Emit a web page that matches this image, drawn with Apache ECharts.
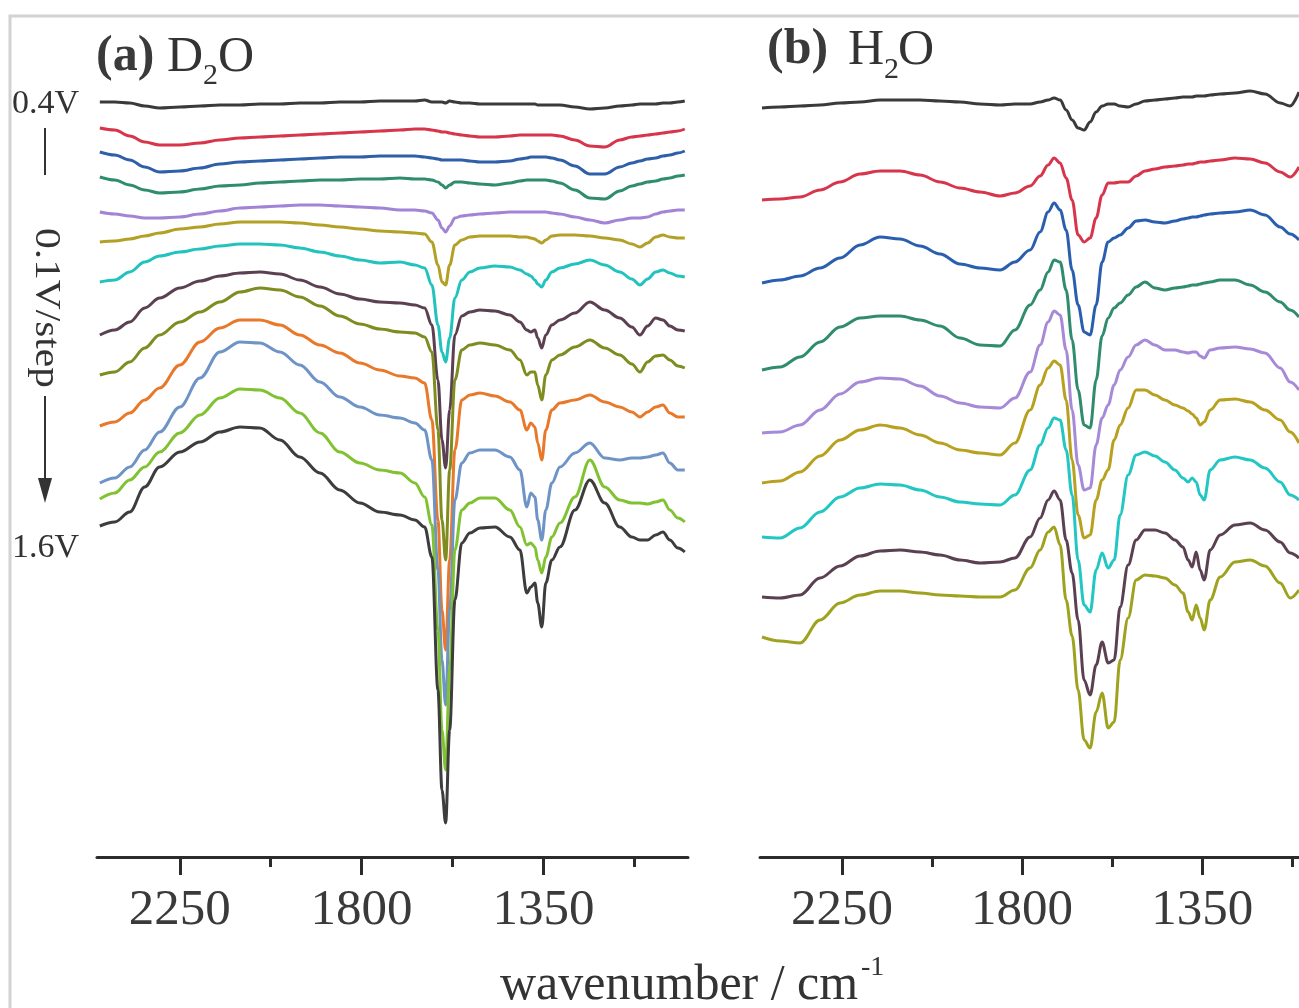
<!DOCTYPE html>
<html>
<head>
<meta charset="utf-8">
<script src="https://cdn.jsdelivr.net/npm/echarts@6/dist/echarts.min.js"></script>
<style>
html,body{margin:0;padding:0;background:#fff;}
#chart{width:1299px;height:1008px;}
</style>
</head>
<body>
<div id="chart"></div>
<script>
// ---------- DATA (wavenumber in cm^-1, intensity in arbitrary units) ----------
const waveA = [2448,2411,2374,2337,2300, 2250,2200,2151,2101,2052, 2002,1953,1903,1854,1804, 1755,1705,1668,1644,1626, 1611,1601,1592,1582,1569, 1552,1532,1507,1470,1433, 1408,1391,1381,1371,1364, 1354,1344,1329,1309,1272, 1235,1198,1161,1131,1111, 1092,1072,1054,1037,1017, 1000];

// Panel (a) D2O, 0.4 V ... 1.6 V
const a04 = [898,898,897,894,892, 893,894,895,895,896, 896,897,897,898,898, 899,899,899,900,898, 898,898,897,899,898, 897,897,896,896,896, 896,896,896,896,895, 895,895,895,895,893, 891,892,894,895,896, 896,896,897,897,898, 899];
const a05 = [872,870,864,858,855, 855,857,860,862,863, 864,865,866,867,868, 869,870,871,871,870, 869,868,868,867,866, 865,864,863,863,864, 865,865,865,865,865, 865,865,865,864,860, 854,853,860,863,864, 865,866,867,868,869, 871];
const a06 = [848,845,840,833,828, 829,832,836,838,839, 840,841,842,843,843, 844,844,844,843,842, 841,840,840,840,840, 840,839,838,838,839, 841,842,843,843,843, 843,843,842,840,834, 826,826,833,837,839, 841,842,844,845,847, 849];
const a07 = [823,820,815,810,807, 808,811,814,815,817, 818,819,820,820,821, 821,822,821,821,820, 818,815,812,815,818, 818,817,816,815,817, 819,820,820,820,820, 820,820,819,817,810, 802,801,809,814,816, 818,819,821,822,824, 825];
const a08 = [788,786,784,782,782, 783,786,789,792,793, 794,795,795,794,793, 792,790,790,789,787, 780,772,768,774,782, 784,785,786,787,788, 788,788,788,788,788, 788,788,787,786,783, 780,777,780,782,782, 783,786,788,789,790, 790];
const a09 = [758,759,761,764,767, 771,773,776,778,778, 778,777,775,773,771, 769,768,767,766,758, 735,718,715,735,755, 760,763,764,764,764, 763,763,762,761,759, 757,760,764,765,765, 764,762,760,756,753, 757,763,765,763,762, 762];
const a10 = [718,720,728,738,744, 748,751,754,756,756, 755,752,748,744,740, 737,738,735,732,715, 675,648,638,662,702, 720,728,732,734,733, 730,726,724,720,716, 713,720,728,732,736, 740,735,728,721,715, 721,728,730,727,724, 723];
const a11 = [665,670,678,692,702, 712,719,724,727,728, 726,720,713,706,701, 698,697,695,692,675, 620,560,532,590,665, 684,688,690,689,685, 678,670,668,670,662, 652,665,675,680,687, 698,690,682,673,665, 674,682,680,674,670, 669];
const a12 = [625,628,638,652,665, 678,688,698,708,712, 710,703,694,684,676, 671,668,667,663,648, 570,480,440,530,620, 650,655,657,655,650, 640,625,628,628,615, 600,625,640,645,653, 660,652,645,636,628, 638,644,645,640,634, 632];
const a13 = [574,578,587,600,612, 635,658,672,680,680, 675,665,655,647,637, 630,624,622,617,580, 480,390,350,440,550, 600,605,607,604,598, 590,570,577,573,557, 540,570,590,597,600, 605,598,593,588,583, 588,593,595,587,583, 583];
const a14 = [517,522,533,550,568, 593,622,648,658,657, 648,635,618,603,593, 585,582,577,570,540, 430,340,295,390,500, 537,547,550,550,543, 530,493,507,503,480, 460,490,517,533,547, 557,542,540,542,542, 543,545,547,537,530, 530];
const a15 = [501,507,520,533,548, 567,585,602,611,610, 602,587,567,548,537, 530,527,517,503,475, 370,270,230,330,450, 490,497,502,502,490, 473,455,457,453,440, 427,443,463,477,503, 540,513,500,497,497, 496,498,500,490,482, 478];
const a16 = [474,478,488,513,533, 548,558,568,573,572, 560,543,527,510,497, 488,485,480,473,443, 310,210,177,270,400, 457,467,472,473,463, 450,407,413,417,397, 373,417,440,453,490, 520,497,473,463,460, 460,465,468,460,452, 448];

const waveB = [2450,2405,2355,2305,2255, 2205,2155,2105,2055,2005, 1955,1905,1855,1818,1780, 1755,1735,1720,1705,1690, 1675,1660,1645,1630,1615, 1600,1585,1570,1555,1535, 1515,1493,1468,1443,1418, 1398,1385,1375,1365,1355, 1345,1330,1305,1268,1230, 1193,1155,1130,1108];

// Panel (b) H2O
const b1 = [892,893,894,895,897, 898,900,900,900,899, 898,896,895,896,896, 898,900,902,900,890, 880,872,870,878,888, 894,896,896,894,893, 896,899,900,901,902, 903,903,903,904,904, 904,905,906,907,909, 906,897,894,908];
const b2 = [800,801,803,810,818, 826,829,829,825,818, 812,808,804,807,814, 824,835,842,837,822, 800,765,758,762,782, 805,817,817,818,818, 824,829,831,833,834, 835,836,836,837,838, 838,839,840,842,841, 837,828,823,833];
const b3 = [717,720,724,732,742, 755,763,761,754,746, 736,732,730,738,750, 768,788,797,790,770, 730,695,668,665,695, 738,758,762,765,772, 779,780,778,777,779, 781,782,783,783,784, 785,786,787,788,790, 785,773,766,760];
const b4 = [630,633,643,658,673, 682,684,684,680,674, 662,655,654,670,695, 710,728,740,738,710, 660,610,575,572,620, 664,682,692,697,705, 713,718,712,710,712, 713,714,715,715,716, 717,718,720,720,715, 708,698,690,683];
const b5 = [567,568,575,590,606, 618,622,621,614,604, 597,593,592,602,628, 655,678,689,685,650, 590,535,510,512,555, 582,595,615,630,643, 655,660,655,650,650, 648,647,648,648,644, 642,650,652,653,651, 647,632,618,610];
const b6 = [517,519,528,544,560, 570,575,572,565,557, 550,547,545,557,590, 615,632,639,635,600, 540,485,462,465,500, 520,530,560,575,592, 610,610,605,600,595, 592,589,586,582,575, 578,590,600,601,598, 590,580,568,557];
const b7 = [463,462,472,488,503, 512,516,515,510,503, 498,496,495,505,530, 555,572,582,580,550, 505,440,395,388,430, 447,432,440,485,525, 545,548,544,538,530, 522,518,522,518,505, 500,530,540,543,540, 532,518,505,500];
const b8 = [403,402,405,422,434, 444,449,450,448,445, 440,437,438,442,463, 482,500,509,500,460, 427,380,320,305,335, 358,337,340,393,435, 460,470,470,467,460, 453,440,433,448,430, 420,450,465,475,477, 470,458,447,442];
const b9 = [363,359,357,380,397, 405,409,409,407,405, 404,403,403,410,432, 450,468,473,455,400, 364,310,260,252,288, 307,272,278,340,382, 420,425,424,422,415, 407,388,380,395,382, 370,400,423,438,440, 434,417,402,410];

const majorTicks = [2250, 1800, 1350];
const minorTicks = [2025, 1575, 1125];

const seriesA = [a04,a05,a06,a07,a08,a09,a10,a11,a12,a13,a14,a15,a16];
const colorsA = ['#3a3a3a','#d6354b','#2f5fa8','#2f8c6e','#a284d6','#b3a026','#22c3bf','#5b4052','#7e8c20','#e8792a','#6e94c6','#80c232','#3d3d3d'];
const seriesB = [b1,b2,b3,b4,b5,b6,b7,b8,b9];
const colorsB = ['#3a3a3a','#d6354b','#2a5fb0','#2f8c6e','#a68ad8','#b8a020','#22c7c3','#5b4052','#9ea21e'];

// ---------- CHART ----------
const FONT = '"Liberation Serif","Times New Roman",serif';
const chart = echarts.init(document.getElementById('chart'), null, {renderer:'canvas'});

function majorAxis(gridIndex, min, max){
  return {
    type:'value', gridIndex, min, max, inverse:true, position:'bottom',
    axisLine:{show:true, onZero:false, lineStyle:{color:'#2b2b2b', width:3}},
    axisTick:{show:true, customValues:majorTicks, length:18, inside:false, lineStyle:{color:'#2b2b2b', width:3}},
    minorTick:{show:false},
    axisLabel:{show:true, customValues:majorTicks, formatter:(v)=>String(v), fontFamily:FONT, fontSize:51, color:'#3a3a3a', margin:28},
    splitLine:{show:false}
  };
}
function minorAxis(gridIndex, min, max){
  return {
    type:'value', gridIndex, min, max, inverse:true, position:'bottom',
    axisLine:{show:false, onZero:false},
    axisTick:{show:true, customValues:minorTicks, length:10, inside:false, lineStyle:{color:'#2b2b2b', width:3}},
    axisLabel:{show:false},
    splitLine:{show:false}
  };
}

const series = [];
seriesA.forEach((arr, i) => {
  series.push({
    type:'line', xAxisIndex:0, yAxisIndex:0,
    data: waveA.map((w, k) => [w, arr[k]]),
    showSymbol:false, smooth:0.35, smoothMonotone:'x',
    lineStyle:{color:colorsA[i], width:3}, itemStyle:{color:colorsA[i]},
    silent:true
  });
});
seriesB.forEach((arr, i) => {
  series.push({
    type:'line', xAxisIndex:2, yAxisIndex:1,
    data: waveB.map((w, k) => [w, arr[k]]),
    showSymbol:false, smooth:0.35, smoothMonotone:'x',
    lineStyle:{color:colorsB[i], width:3}, itemStyle:{color:colorsB[i]},
    silent:true
  });
});

function txt(x, y, text, size, opts){
  return Object.assign({
    type:'text', x, y, silent:true,
    style:Object.assign({text, fontFamily:FONT, fontSize:size, fill:'#333', align:'left', verticalAlign:'middle'}, (opts && opts.style) || {})
  }, (opts && opts.el) || {});
}

const option = {
  animation:false,
  backgroundColor:'#ffffff',
  grid:[
    {left:97, top:57, width:591, height:800, containLabel:false},
    {left:760, top:57, width:539, height:800, containLabel:false}
  ],
  xAxis:[
    majorAxis(0, 992, 2455), minorAxis(0, 992, 2455),
    majorAxis(1, 1108, 2455), minorAxis(1, 1108, 2455)
  ],
  yAxis:[
    {type:'value', gridIndex:0, min:143, max:943, show:false},
    {type:'value', gridIndex:1, min:143, max:943, show:false}
  ],
  series,
  graphic:[
    {type:'rect', silent:true, shape:{x:10, y:16, width:1300, height:1000}, style:{fill:'none', stroke:'#d2d2d2', lineWidth:3}},
    // panel titles
    txt(96, 57, '(a)', 50, {style:{fontWeight:'bold', fill:'#3a3a3a'}}),
    txt(167, 58, 'D', 50),
    txt(203, 76, '2', 30),
    txt(218, 58, 'O', 50),
    txt(767, 50, '(b)', 50, {style:{fontWeight:'bold', fill:'#3a3a3a'}}),
    txt(848, 51, 'H', 50),
    txt(884, 70, '2', 30),
    txt(898, 51, 'O', 50),
    // potential labels
    txt(12, 104, '0.4V', 34),
    txt(12, 548, '1.6V', 34),
    {type:'line', silent:true, shape:{x1:45, y1:128, x2:45, y2:175}, style:{stroke:'#333', lineWidth:2}},
    {type:'text', silent:true, x:45, y:308, rotation:-Math.PI/2, scaleX:1.15,
      style:{text:'0.1V/step', fontFamily:FONT, fontSize:36, fill:'#333', align:'center', verticalAlign:'middle'}},
    {type:'line', silent:true, shape:{x1:45, y1:396, x2:45, y2:482}, style:{stroke:'#333', lineWidth:2}},
    {type:'polygon', silent:true, shape:{points:[[38,478],[52,478],[45,503]]}, style:{fill:'#333'}},
    // x axis title
    txt(500, 986, 'wavenumber / cm', 50),
    txt(861, 968, '-1', 28)
  ]
};
chart.setOption(option);
</script>
</body>
</html>
